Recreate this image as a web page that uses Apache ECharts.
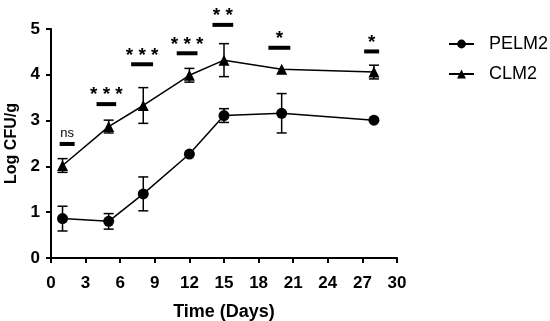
<!DOCTYPE html>
<html><head><meta charset="utf-8">
<script src="https://cdn.jsdelivr.net/npm/echarts@6/dist/echarts.min.js"></script>
<style>html,body{margin:0;padding:0;background:#fff}#c{width:550px;height:321px}</style>
</head><body><div id="c"></div>
<script>
var days = [1, 5, 8, 12, 15, 20, 28];
var pelm2 = [0.86, 0.80, 1.40, 2.27, 3.11, 3.16, 3.01];
var pelm2Err = [0.27, 0.17, 0.37, 0, 0.15, 0.43, 0];
var clm2 = [2.02, 2.87, 3.33, 3.99, 4.32, 4.12, 4.06];
var clm2Err = [0.15, 0.14, 0.39, 0.15, 0.36, 0, 0.15];
var sigDays = [1.4, 4.8, 7.9, 11.8, 14.9, 19.8, 27.8];
var sigValues = [2.49, 3.36, 4.23, 4.47, 5.09, 4.59, 4.51];
var sigLabels = ['ns', '* * *', '* * *', '* * *', '* *', '*', '*'];
var sigWidths = [1.3, 1.7, 1.9, 1.8, 1.8, 1.9, 1.3];
var xTicks = [0, 3, 6, 9, 12, 15, 18, 21, 24, 27, 30];
var yTicks = [0, 1, 2, 3, 4, 5];

var FF = '"Liberation Sans", Arial, sans-serif';
function pts(v){ return days.map(function(d,i){ return [d, v[i]]; }); }
function errData(v, e){
  var out = [];
  days.forEach(function(d,i){ if (e[i] > 0) out.push([d, v[i]-e[i], v[i]+e[i]]); });
  return out;
}
function errRender(params, api){
  var x = api.value(0);
  var lo = api.coord([x, api.value(1)]);
  var hi = api.coord([x, api.value(2)]);
  var w = 5;
  var st = {stroke:'#000', lineWidth:1.5};
  return {type:'group', children:[
    {type:'line', shape:{x1:lo[0], y1:lo[1], x2:hi[0], y2:hi[1]}, style:st},
    {type:'line', shape:{x1:lo[0]-w, y1:lo[1], x2:lo[0]+w, y2:lo[1]}, style:st},
    {type:'line', shape:{x1:hi[0]-w, y1:hi[1], x2:hi[0]+w, y2:hi[1]}, style:st}
  ]};
}
var sigData = sigDays.map(function(d,i){ return [d, sigValues[i], sigWidths[i], i]; });
function sigRender(params, api){
  var x = api.value(0), y = api.value(1), w = api.value(2), i = api.value(3);
  var a = api.coord([x - w/2, y]);
  var b = api.coord([x + w/2, y]);
  var lab = sigLabels[i];
  var isNs = lab === 'ns';
  return {type:'group', children:[
    {type:'rect', shape:{x:a[0], y:a[1]-2, width:b[0]-a[0], height:4}, style:{fill:'#000'}},
    {type:'text', x:(a[0]+b[0])/2, y: isNs ? a[1]-11 : a[1]-9,
      style:{text:lab, fill:'#000', align:'center', verticalAlign:'middle',
        font: isNs ? '13px ' + FF : 'bold 19px ' + FF}}
  ]};
}
var chart = echarts.init(document.getElementById('c'), null, {renderer:'canvas'});
var axisFont = {fontFamily:FF, fontWeight:'bold', fontSize:17, color:'#000'};
chart.setOption({
  animation:false,
  backgroundColor:'#fff',
  grid:{left:51, right:153, top:29, bottom:63, containLabel:false, outerBoundsMode:'none'},
  legend:{
    orient:'vertical', left:443, top:30, itemGap:12, itemWidth:25, itemHeight:11,
    textStyle:{fontFamily:FF, fontSize:18, color:'#000', padding:[0,0,0,10]},
    data:['PELM2','CLM2']
  },
  xAxis:{
    type:'value', min:0, max:30, interval:3,
    name:'Time (Days)', nameLocation:'middle', nameGap:45,
    nameTextStyle:{fontFamily:FF, fontWeight:'bold', fontSize:18, color:'#000'},
    axisLine:{show:true, lineStyle:{color:'#000', width:2}},
    axisTick:{show:true, length:5, lineStyle:{color:'#000', width:2}},
    axisLabel:Object.assign({margin:17, formatter:function(v){ return xTicks.indexOf(v) >= 0 ? String(v) : ''; }}, axisFont),
    splitLine:{show:false}
  },
  yAxis:{
    type:'value', min:0, max:5, interval:1,
    name:'Log CFU/g', nameLocation:'middle', nameGap:26, nameRotate:90,
    nameTextStyle:{fontFamily:FF, fontWeight:'bold', fontSize:16, color:'#000'},
    axisLine:{show:true, lineStyle:{color:'#000', width:2}},
    axisTick:{show:true, length:5, lineStyle:{color:'#000', width:2}},
    axisLabel:Object.assign({margin:11, formatter:function(v){ return yTicks.indexOf(v) >= 0 ? String(v) : ''; }}, axisFont),
    splitLine:{show:false}
  },
  series:[
    {name:'PELM2', type:'line', data:pts(pelm2), symbol:'circle', symbolSize:11,
      itemStyle:{color:'#000'}, lineStyle:{color:'#000', width:1.5}, z:3},
    {name:'CLM2', type:'line', data:pts(clm2), symbol:'triangle', symbolSize:11,
      itemStyle:{color:'#000'}, lineStyle:{color:'#000', width:1.5}, z:3},
    {type:'custom', data:errData(pelm2, pelm2Err), renderItem:errRender, clip:false, z:2, silent:true},
    {type:'custom', data:errData(clm2, clm2Err), renderItem:errRender, clip:false, z:2, silent:true},
    {type:'custom', data:sigData, renderItem:sigRender, clip:false, z:4, silent:true}
  ]
});
</script></body></html>
